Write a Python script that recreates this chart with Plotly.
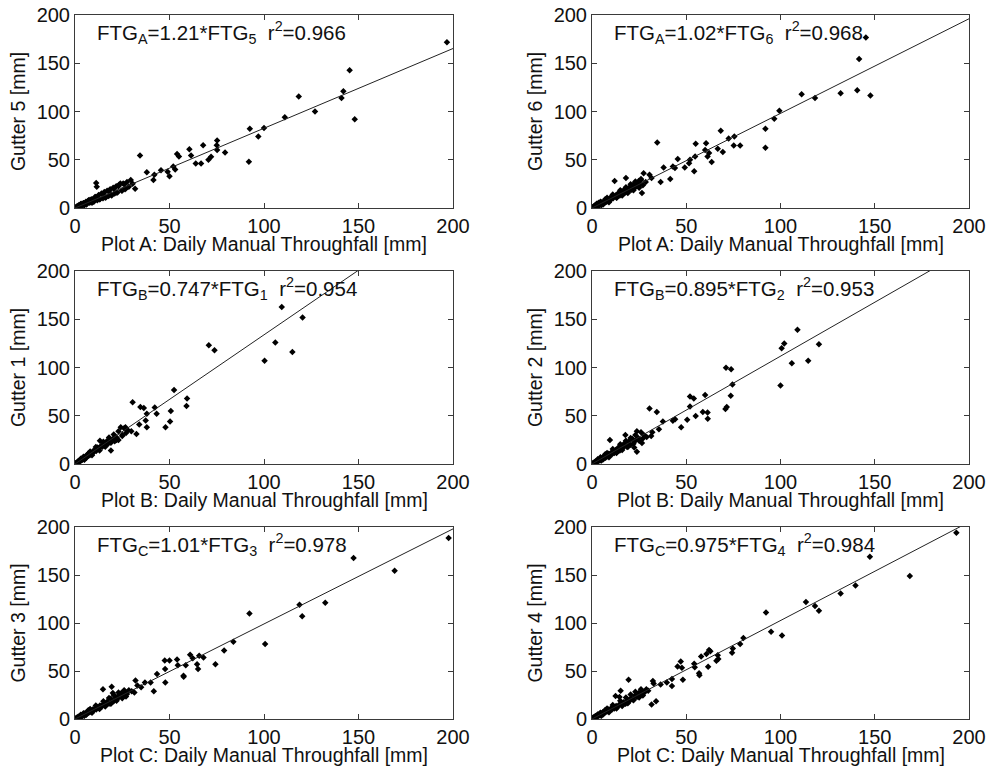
import plotly.graph_objects as go

# ---------------- data ----------------
A1_x = [0.3, 0.6, 0.9, 1.2, 1.5, 1.8, 2.1, 2.5, 2.8, 3.2,
        3.6, 4.0, 4.4, 4.8, 5.3, 5.8, 6.2, 6.7, 7.2, 7.8,
        8.3, 8.9, 9.4, 10.0, 10.6, 11.2, 11.5, 11.8, 12.5, 13.2,
        14.0, 14.8, 15.5, 16.3, 17.0, 17.8, 18.6, 19.4, 20.2, 21.0,
        21.8, 22.5, 23.3, 24.0, 24.8, 25.5, 26.5, 27.5, 28.5, 29.5,
        30.5, 31.8, 34.4, 38.0, 41.5, 42.0, 45.5, 49.0, 50.0, 52.0,
        53.0, 54.0, 55.0, 60.5, 61.4, 63.9, 66.7, 67.8, 70.6, 72.0,
        75.2, 75.2, 75.0, 79.4, 92.0, 92.5, 97.0, 100.0, 111.0, 118.4,
        127.0, 141.0, 142.0, 145.3, 148.0, 196.8,
        3.0, 5.0, 7.0, 9.0, 11.0, 13.0, 15.0, 16.0, 18.0, 19.0,
        20.5, 22.0, 23.0, 25.0, 26.0, 27.0, 8.0, 6.0, 4.5, 2.2]
G5_y = [0.5, 0.2, 1.5, 0.6, 2.0, 1.2, 3.0, 1.5, 2.6, 4.5,
        2.2, 3.5, 5.0, 3.0, 4.8, 6.5, 4.2, 6.0, 8.0, 5.5,
        7.5, 9.0, 6.8, 6.5, 11.5, 26.0, 22.0, 8.0, 13.5, 9.0,
        15.0, 10.0, 16.5, 11.0, 18.0, 12.5, 19.5, 13.0, 21.0, 15.0,
        22.5, 16.0, 24.0, 25.5, 18.0, 25.5, 19.5, 27.0, 22.0, 29.0,
        25.0, 20.0, 54.5, 37.0, 29.0, 34.5, 39.0, 37.6, 33.0, 43.0,
        40.0, 56.0, 53.4, 61.0, 54.5, 46.0, 46.0, 65.0, 50.0, 53.0,
        70.0, 60.0, 65.0, 57.6, 48.0, 82.0, 74.0, 83.0, 94.0, 115.5,
        100.0, 114.0, 121.0, 142.8, 92.0, 171.7,
        3.8, 3.0, 7.5, 5.5, 11.5, 9.0, 15.0, 11.0, 17.5, 14.0,
        20.0, 16.0, 22.5, 18.5, 24.5, 20.5, 8.5, 3.5, 5.0, 1.0]

A2_x = [0.3, 0.6, 0.9, 1.2, 1.5, 1.8, 2.1, 2.5, 2.8, 3.2,
        3.6, 4.0, 4.4, 4.8, 5.3, 5.8, 6.2, 6.7, 7.2, 7.8,
        8.3, 8.9, 9.4, 10.0, 10.6, 11.2, 12.0, 12.5, 13.2, 14.0,
        14.8, 15.5, 16.3, 17.0, 17.8, 18.0, 18.6, 19.4, 20.2, 21.0,
        21.8, 22.5, 23.3, 24.0, 24.8, 25.5, 26.0, 26.5, 27.4, 28.5,
        30.5, 31.6, 34.6, 36.4, 38.0, 41.5, 42.9, 44.0, 45.5, 49.2,
        51.5, 52.0, 54.2, 54.7, 55.0, 60.0, 60.5, 61.3, 62.1, 63.5,
        66.7, 68.3, 69.4, 72.5, 75.2, 75.5, 78.6, 92.0, 92.0, 96.7,
        99.4, 111.2, 118.3, 131.9, 140.7, 141.7, 145.3, 147.7,
        3.0, 5.0, 7.0, 9.0, 11.0, 13.0, 15.0, 16.0, 18.0, 19.0,
        20.5, 22.0, 23.0, 25.0, 26.0, 27.0, 8.0, 6.0, 4.5, 2.2]
G6_y = [0.4, 1.2, 0.5, 2.0, 1.0, 3.0, 1.5, 4.5, 2.2, 3.5,
        5.5, 2.8, 4.0, 6.0, 4.5, 3.8, 6.5, 5.5, 8.0, 6.5,
        9.0, 7.0, 10.0, 8.5, 12.0, 10.0, 28.0, 13.0, 11.0, 15.5,
        13.0, 17.0, 14.0, 19.0, 16.0, 31.0, 20.0, 17.0, 22.0, 19.0,
        24.0, 20.5, 26.0, 23.0, 28.0, 24.5, 29.0, 15.5, 36.0, 27.0,
        34.5, 31.0, 68.0, 27.0, 42.0, 30.0, 43.0, 41.4, 50.7, 42.0,
        46.5, 50.0, 38.0, 53.4, 66.5, 60.0, 67.0, 53.4, 57.0, 47.6,
        61.4, 80.0, 58.0, 72.0, 64.8, 74.0, 64.8, 82.0, 62.4, 92.4,
        100.7, 118.0, 114.0, 119.0, 122.0, 154.5, 176.6, 116.6,
        4.5, 3.0, 9.0, 6.0, 14.0, 10.5, 18.5, 13.0, 21.5, 15.5,
        24.5, 18.5, 27.5, 21.0, 30.0, 23.5, 10.5, 4.0, 6.5, 1.0]

B1_x = [0.3, 0.6, 0.9, 1.2, 1.5, 1.8, 2.1, 2.5, 2.8, 3.2,
        3.6, 4.0, 4.4, 4.8, 5.3, 5.8, 6.2, 6.7, 7.2, 7.8,
        8.3, 8.9, 9.4, 10.0, 10.6, 11.2, 11.8, 12.5, 13.2, 13.8,
        14.5, 15.2, 16.0, 16.8, 17.5, 18.3, 19.0, 20.0, 21.0, 22.0,
        23.0, 24.2, 25.0, 26.7, 28.0, 29.8, 30.5, 32.5, 34.0, 34.6,
        36.4, 37.4, 38.0, 38.0, 42.2, 43.2, 47.9, 50.3, 50.7, 52.4,
        59.0, 59.3, 70.8, 73.8, 100.3, 106.0, 109.4, 115.0, 120.4,
        3.0, 5.0, 7.0, 9.0, 11.0, 13.0, 15.0, 16.0, 18.0, 19.0,
        20.5, 22.0, 23.0, 25.0, 26.0, 27.0, 8.0, 6.0, 4.5, 2.2]
G1_y = [0.4, 1.0, 1.5, 1.2, 2.5, 2.0, 3.2, 2.8, 4.2, 3.5,
        5.5, 4.5, 6.5, 5.5, 7.5, 6.8, 9.0, 8.0, 10.5, 9.0,
        12.0, 10.5, 13.0, 12.5, 15.0, 13.5, 17.0, 16.0, 24.0, 19.0,
        18.0, 22.0, 20.0, 23.5, 21.0, 25.0, 14.0, 26.0, 23.5, 27.5,
        25.0, 38.0, 30.0, 38.0, 35.0, 34.0, 64.0, 31.0, 41.0, 59.0,
        58.0, 45.0, 52.0, 38.0, 58.6, 52.0, 38.0, 44.0, 55.0, 76.6,
        60.0, 68.0, 123.0, 118.0, 107.0, 126.0, 162.8, 116.0, 151.7,
        5.5, 4.5, 11.0, 9.0, 17.5, 14.0, 23.0, 18.0, 27.5, 22.0,
        30.5, 25.0, 34.0, 29.0, 37.0, 32.0, 13.0, 6.5, 7.5, 2.0]

B2_x = [0.3, 0.6, 0.9, 1.2, 1.5, 1.8, 2.1, 2.5, 2.8, 3.2,
        3.6, 4.0, 4.4, 4.8, 5.3, 5.8, 6.2, 6.7, 7.2, 7.8,
        8.3, 8.9, 9.4, 9.5, 10.0, 10.6, 11.2, 11.8, 12.5, 13.2,
        14.0, 14.8, 15.5, 16.3, 17.0, 17.7, 18.5, 19.5, 20.5, 21.5,
        22.4, 23.0, 23.8, 23.8, 24.5, 26.5, 27.5, 29.0, 30.5, 31.4,
        32.0, 34.4, 35.5, 37.6, 42.9, 44.1, 47.3, 50.5, 52.0, 52.0,
        54.0, 55.0, 58.8, 60.0, 61.3, 61.4, 70.8, 71.1, 71.5, 73.6,
        73.8, 74.5, 100.0, 100.6, 102.0, 106.0, 109.0, 114.7, 120.4,
        3.0, 5.0, 7.0, 9.0, 11.0, 13.0, 15.0, 16.0, 18.0, 19.0,
        20.5, 22.0, 23.0, 25.0, 26.0, 27.0, 8.0, 6.0, 4.5, 2.2]
G2_y = [0.3, 1.0, 0.6, 1.8, 1.2, 2.5, 1.8, 3.2, 2.5, 4.0,
        3.2, 5.0, 4.0, 6.0, 5.0, 7.0, 6.0, 8.0, 6.5, 9.0,
        8.0, 10.5, 9.0, 25.0, 11.5, 10.0, 13.0, 11.5, 14.5, 12.5,
        17.0, 14.0, 19.0, 16.5, 21.0, 30.0, 18.0, 23.0, 20.0, 26.0,
        17.0, 24.0, 12.8, 34.0, 27.0, 21.7, 30.0, 28.0, 57.6, 29.0,
        33.0, 54.0, 36.0, 44.0, 44.8, 46.5, 38.0, 45.9, 59.7, 70.0,
        68.0, 49.7, 53.8, 71.4, 53.4, 47.0, 57.0, 99.7, 59.0, 70.7,
        98.3, 82.4, 81.4, 120.0, 125.0, 104.5, 139.0, 107.0, 124.0,
        4.8, 3.5, 10.0, 7.0, 15.5, 11.5, 20.5, 14.5, 24.0, 17.5,
        27.0, 21.0, 30.0, 24.0, 33.0, 26.5, 11.5, 5.0, 7.0, 1.5]

C3_x = [0.3, 0.6, 0.9, 1.2, 1.5, 1.8, 2.1, 2.5, 2.8, 3.2,
        3.6, 4.0, 4.4, 4.8, 5.3, 5.8, 6.2, 6.7, 7.2, 7.8,
        8.3, 8.9, 9.4, 10.0, 10.6, 11.2, 11.8, 12.5, 13.2, 14.0,
        14.8, 15.0, 16.0, 17.0, 18.0, 19.0, 19.4, 20.0, 20.5, 21.5,
        22.5, 23.5, 24.5, 25.5, 26.5, 27.5, 28.5, 30.0, 31.4, 32.0,
        33.0, 35.0, 37.0, 40.0, 41.7, 43.4, 47.5, 47.7, 47.8, 50.0,
        54.0, 54.4, 57.4, 57.5, 58.6, 60.9, 62.3, 64.6, 65.1, 65.7,
        68.0, 74.3, 78.9, 83.8, 92.3, 100.6, 118.8, 120.2, 132.4, 147.4,
        169.1, 197.7,
        3.0, 5.0, 7.0, 9.0, 11.0, 13.0, 15.0, 16.0, 18.0, 19.0,
        20.5, 22.0, 23.0, 25.0, 26.0, 27.0, 8.0, 6.0, 4.5, 2.2]
G3_y = [0.5, 0.2, 1.2, 0.8, 2.0, 1.2, 2.5, 1.8, 3.2, 2.5,
        4.0, 3.0, 5.0, 4.0, 6.0, 5.0, 7.0, 6.0, 8.0, 7.0,
        9.0, 8.0, 10.0, 9.0, 11.5, 10.0, 12.5, 11.5, 14.0, 12.5,
        31.0, 15.5, 14.0, 18.0, 16.0, 21.0, 33.5, 27.0, 18.5, 23.0,
        21.0, 25.0, 27.0, 24.0, 28.5, 26.0, 30.0, 29.0, 27.6, 40.0,
        35.0, 33.0, 38.0, 38.0, 29.0, 47.0, 61.0, 52.0, 38.0, 61.0,
        62.0, 56.0, 45.0, 44.0, 56.0, 67.0, 63.4, 57.0, 52.0, 66.0,
        64.0, 57.0, 71.4, 80.4, 110.0, 78.0, 119.0, 107.0, 121.0, 167.7,
        154.5, 188.5,
        4.5, 3.5, 9.0, 6.5, 14.0, 10.5, 18.5, 13.0, 22.0, 16.0,
        25.0, 19.0, 27.5, 21.5, 30.0, 23.5, 10.5, 4.5, 6.0, 1.2]

C4_x = [0.3, 0.6, 0.9, 1.2, 1.5, 1.8, 2.1, 2.5, 2.8, 3.2,
        3.6, 4.0, 4.4, 4.8, 5.3, 5.8, 6.2, 6.7, 7.2, 7.8,
        8.3, 8.9, 9.4, 10.0, 10.6, 11.2, 11.8, 12.5, 12.8, 13.5,
        14.6, 15.2, 14.8, 15.8, 16.8, 17.8, 18.8, 19.4, 19.8, 20.8,
        21.8, 22.8, 23.8, 24.8, 25.8, 26.8, 27.8, 28.8, 29.8, 31.6,
        32.3, 32.7, 34.0, 36.4, 39.7, 42.4, 42.4, 45.4, 47.1, 47.7,
        48.2, 54.2, 54.5, 56.8, 57.0, 57.9, 60.7, 61.6, 62.1, 62.8,
        66.0, 66.7, 67.0, 74.3, 74.7, 78.6, 80.3, 92.3, 95.0, 100.8,
        113.5, 118.3, 120.4, 131.9, 139.8, 147.4, 168.6, 193.3,
        3.0, 5.0, 7.0, 9.0, 11.0, 13.0, 15.0, 16.0, 18.0, 19.0,
        20.5, 22.0, 23.0, 25.0, 26.0, 27.0, 8.0, 6.0, 4.5, 2.2]
G4_y = [0.5, 1.5, 0.8, 2.0, 1.2, 3.0, 2.0, 3.5, 2.5, 4.5,
        3.5, 5.5, 4.0, 6.0, 5.0, 7.0, 6.0, 8.0, 7.0, 9.0,
        8.0, 10.0, 9.0, 11.0, 10.0, 12.5, 11.0, 24.0, 13.5, 12.5,
        23.0, 29.3, 15.5, 14.5, 17.5, 16.0, 20.0, 41.0, 18.5, 22.0,
        20.5, 24.5, 23.0, 27.0, 25.0, 29.0, 27.5, 31.0, 29.5, 15.0,
        39.7, 37.0, 18.6, 36.0, 38.0, 41.7, 34.5, 54.8, 60.0, 53.4,
        41.0, 57.6, 53.8, 47.6, 45.5, 65.0, 67.6, 54.5, 72.0, 70.7,
        60.7, 66.5, 62.4, 69.0, 73.4, 78.0, 84.5, 111.0, 91.0, 87.0,
        122.0, 117.6, 112.8, 130.7, 139.0, 169.0, 149.0, 194.0,
        4.8, 3.5, 9.5, 7.0, 14.5, 11.0, 19.0, 13.5, 22.5, 16.5,
        25.5, 19.5, 28.5, 22.5, 31.0, 24.5, 11.0, 5.0, 6.5, 1.5]

# regression: FTG_plot = coef * FTG_gutter
coefs = [1.21, 1.02, 0.747, 0.895, 1.01, 0.975]
r2s = ["0.966", "0.968", "0.954", "0.953", "0.978", "0.984"]
coef_labels = ["1.21", "1.02", "0.747", "0.895", "1.01", "0.975"]
plot_ids = ["A", "A", "B", "B", "C", "C"]
gutter_ids = ["5", "6", "1", "2", "3", "4"]
xs = [A1_x, A2_x, B1_x, B2_x, C3_x, C4_x]
ys = [G5_y, G6_y, G1_y, G2_y, G3_y, G4_y]
tick_vals = [0, 50, 100, 150, 200]

# ---------------- layout ----------------
W, H = 987, 776
col_px = [(75, 453), (592, 969)]
row_px = [(15, 208), (271, 464), (527, 719)]
FONT = "Liberation Sans, Arial, sans-serif"
INK = "#111111"
BOX = "#3a3a3a"

fig = go.Figure()
layout = dict(width=W, height=H,
              margin=dict(l=0, r=0, t=0, b=0, pad=0, autoexpand=False),
              paper_bgcolor="white", plot_bgcolor="white", showlegend=False,
              font=dict(family=FONT, color=INK, size=19))
annotations = []

for i in range(6):
    r, c = divmod(i, 2)
    ax = "" if i == 0 else str(i + 1)
    xa, ya = "x" + ax, "y" + ax
    n = min(len(xs[i]), len(ys[i]))
    fig.add_trace(go.Scatter(x=xs[i][:n], y=ys[i][:n], mode="markers",
                             marker=dict(symbol="diamond", size=5, color="black"),
                             xaxis=xa, yaxis=ya))
    fig.add_trace(go.Scatter(x=[0, 200], y=[0, 200 / coefs[i]], mode="lines",
                             line=dict(color="#222222", width=1),
                             xaxis=xa, yaxis=ya))
    x0, x1 = col_px[c]
    y0, y1 = row_px[r]
    common = dict(range=[0, 200], tickvals=tick_vals, ticks="inside", ticklen=5,
                  tickcolor=BOX, showline=True, linecolor=BOX, linewidth=1,
                  mirror="ticks", showgrid=False, zeroline=False, automargin=False,
                  tickfont=dict(size=20, family=FONT, color=INK))
    layout["xaxis" + ax] = dict(common, domain=[x0 / W, x1 / W], anchor=ya)
    layout["yaxis" + ax] = dict(common, domain=[1 - y1 / H, 1 - y0 / H], anchor=xa,
                                title=dict(text=f"Gutter {gutter_ids[i]} [mm]",
                                           font=dict(size=19.5, family=FONT, color=INK),
                                           standoff=5))
    # x-axis title
    annotations.append(dict(
        xref=f"{xa} domain", yref=f"{ya} domain", x=0.5, y=0,
        xanchor="center", yanchor="middle", yshift=-36, showarrow=False,
        font=dict(size=19.5, family=FONT, color=INK),
        text=f"Plot {plot_ids[i]}: Daily Manual Throughfall [mm]"))
    # regression label
    annotations.append(dict(
        xref=f"{xa} domain", yref=f"{ya} domain", x=0.053, y=0.909,
        xanchor="left", yanchor="middle", showarrow=False,
        font=dict(size=20.5, family=FONT, color=INK),
        text=(f"FTG<sub>{plot_ids[i]}</sub>={coef_labels[i]}*FTG<sub>{gutter_ids[i]}</sub>"
              f"  r<sup>2</sup>={r2s[i]}")))

layout["annotations"] = annotations
fig.update_layout(**layout)
fig.write_html("out.html", config={"displayModeBar": False},
               post_script="document.body.style.margin='0px';")
